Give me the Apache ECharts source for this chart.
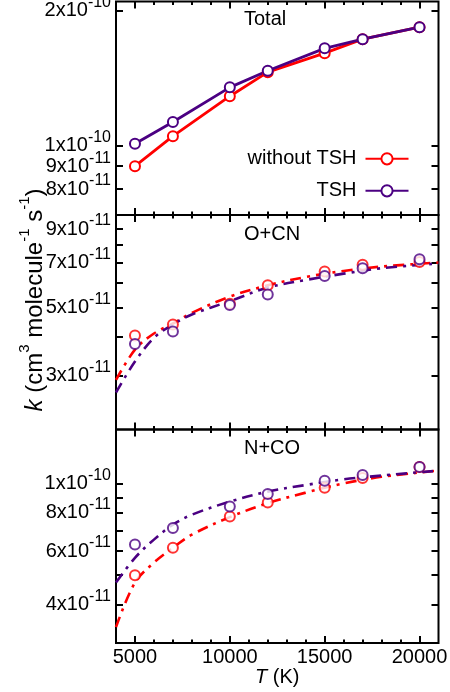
<!DOCTYPE html>
<html>
<head>
<meta charset="utf-8">
<script src="https://cdn.jsdelivr.net/npm/echarts@6/dist/echarts.min.js"></script>
<style>
html,body{margin:0;padding:0;background:#fff}
#chart{width:450px;height:692px}
</style>
</head>
<body>
<div id="chart"></div>
<script>
// temperatures (K)
var temps=[5000,7000,10000,12000,15000,17000,20000]
// Total
var totalNoTSH=[9.0e-11,1.05e-10,1.29e-10,1.46e-10,1.61e-10,1.73e-10,1.84e-10]
var totalTSH=[1.01e-10,1.13e-10,1.35e-10,1.47e-10,1.65e-10,1.73e-10,1.84e-10]
// O+CN
var ocnNoTSH=[4.05e-11,4.40e-11,5.14e-11,5.90e-11,6.54e-11,6.88e-11,7.03e-11]
var ocnTSH=[3.80e-11,4.17e-11,5.09e-11,5.51e-11,6.33e-11,6.71e-11,7.18e-11]
// N+CO
var ncoNoTSH=[5.0e-11,6.15e-11,7.79e-11,8.65e-11,9.67e-11,1.04e-10,1.13e-10]
var ncoTSH=[6.3e-11,7.14e-11,8.4e-11,9.23e-11,1.02e-10,1.065e-10,1.13e-10]
// fitted curves
var fitT=[4000,5000,6000,7000,8000,10000,12000,14000,16000,18000,21000]
var ocnFitNoTSH=[2.9e-11,3.64e-11,4.11e-11,4.43e-11,4.80e-11,5.42e-11,5.90e-11,6.28e-11,6.57e-11,6.79e-11,7.00e-11]
var ocnFitTSH=[2.64e-11,3.33e-11,3.98e-11,4.40e-11,4.74e-11,5.24e-11,5.80e-11,6.14e-11,6.44e-11,6.71e-11,6.95e-11]
var ncoFitNoTSH=[3.38e-11,4.73e-11,5.5e-11,6.15e-11,6.79e-11,7.75e-11,8.61e-11,9.32e-11,9.99e-11,1.05e-10,1.10e-10]
var ncoFitTSH=[4.73e-11,5.7e-11,6.54e-11,7.32e-11,7.89e-11,8.71e-11,9.39e-11,9.87e-11,1.03e-10,1.06e-10,1.10e-10]
// ticks
var xMajor=[5000,10000,15000,20000]
var xMinor=[6000,7000,8000,9000,11000,12000,13000,14000,16000,17000,18000,19000]
var yTicks=[[8e-11,9e-11,1e-10,2e-10],[3e-11,4e-11,5e-11,6e-11,7e-11,8e-11,9e-11],[4e-11,5e-11,6e-11,7e-11,8e-11,9e-11,1e-10]]
var yLabels=[[8e-11,9e-11,1e-10,2e-10],[3e-11,5e-11,7e-11,9e-11],[4e-11,6e-11,8e-11,1e-10]]
var yMin=[7e-11,2e-11,3e-11]
var yMax=[2.1e-10,1e-10,1.5e-10]
var panelNames=['Total','O+CN','N+CO']

var RED='#ff0000',PUR='#4b0082',FONT='Liberation Sans, Arial, sans-serif'

function pairs(xs,ys){
    var out=[]
    for(var i=0;i<xs.length;i++) out.push([xs[i],ys[i]])
    return out
}

//科学计数标签
function sciLabel(v){
    var e=Math.floor(Math.log10(v)+1e-9)
    var m=Math.round(v/Math.pow(10,e))
    return '{a|'+m+'x10}{s|'+e+'}'
}

var labelRich={
    a:{fontSize:20,fontFamily:FONT,color:'#000',lineHeight:20,verticalAlign:'bottom'},
    s:{fontSize:16,fontFamily:FONT,color:'#000',lineHeight:6,verticalAlign:'bottom',padding:[0,0,10,0]}
}

var grids=[
    {left:116,right:11.5,top:1.5,height:213.5},
    {left:116,right:11.5,top:215,height:214.5},
    {left:116,right:11.5,top:429.5,height:213.5}
]
var xAxes=[],yAxes=[],graphics=[]
for(var g=0;g<3;g++){
    grids[g].show=true
    grids[g].borderColor='#000'
    grids[g].borderWidth=2
    grids[g].backgroundColor='transparent'
    grids[g].containLabel=false
    grids[g].outerBoundsMode='none'
    var defs=[['bottom',xMajor,7],['bottom',xMinor,3.5],['top',xMajor,7],['top',xMinor,3.5]]
    for(var k=0;k<4;k++){
        var ax={
            type:'value',gridIndex:g,position:defs[k][0],min:4000,max:21000,
            axisLine:{show:false},splitLine:{show:false},
            axisTick:{show:true,inside:true,length:defs[k][2],customValues:defs[k][1],lineStyle:{color:'#000',width:2}},
            axisLabel:{show:false}
        }
        if(g==2&&k==0){
            ax.axisLabel={show:true,customValues:xMajor,margin:4,color:'#000',fontSize:20,fontFamily:FONT,
                showMinLabel:true,showMaxLabel:true,formatter:function(v){return String(v)}}
            ax.name='{i|T} (K)'
            ax.nameLocation='middle'
            ax.nameGap=23
            ax.nameTextStyle={color:'#000',fontSize:20,fontFamily:FONT,rich:{i:{fontStyle:'italic',fontSize:20,fontFamily:FONT,color:'#000'}}}
        }
        xAxes.push(ax)
    }
    // 标签分两组放在两条左轴上，避免相邻标签被隐藏
    var setA=[],setB=[]
    for(var i=0;i<yLabels[g].length;i++){
        if(i%2==0) setA.push(yLabels[g][i]); else setB.push(yLabels[g][i])
    }
    var ydefs=[['left',yTicks[g],setA],['left',[],setB],['right',yTicks[g],null]]
    for(var s=0;s<3;s++){
        var yx={
            type:'log',logBase:10,gridIndex:g,position:ydefs[s][0],min:yMin[g],max:yMax[g],
            axisLine:{show:false},splitLine:{show:false},
            axisTick:{show:ydefs[s][1].length>0,inside:true,length:7,customValues:ydefs[s][1].length?ydefs[s][1]:undefined,lineStyle:{color:'#000',width:2}},
            axisLabel:{show:false}
        }
        if(ydefs[s][2]){
            yx.axisLabel={
                show:true,customValues:ydefs[s][2],margin:5,formatter:sciLabel,hideOverlap:false,
                showMinLabel:true,showMaxLabel:true,rich:labelRich
            }
        }
        yAxes.push(yx)
    }
    graphics.push({type:'text',x:244,y:grids[g].top+(g==0?17.5:19),style:{text:panelNames[g],fill:'#000',font:'20px '+FONT,align:'left',verticalAlign:'middle'}})
}

graphics.push({
    type:'text',x:32,y:300,rotation:Math.PI/2,
    style:{
        text:'{i|k}{m| (cm}{s|3}{m| molecule}{s|-1}{m| s}{s|-1}{m|)}',
        fill:'#000',fontSize:24,fontFamily:FONT,align:'center',verticalAlign:'middle',lineHeight:30,
        rich:{
            i:{fontStyle:'italic',fontSize:24,fontFamily:FONT,fill:'#000',lineHeight:30,verticalAlign:'bottom'},
            m:{fontSize:24,fontFamily:FONT,fill:'#000',lineHeight:30,verticalAlign:'bottom'},
            s:{fontSize:15,fontFamily:FONT,fill:'#000',lineHeight:6,verticalAlign:'top'}
        }
    }
})

function pointSeries(name,xi,yi,data,color){
    return {type:'scatter',name:name,xAxisIndex:xi,yAxisIndex:yi,data:data,symbol:'emptyCircle',symbolSize:10,
        itemStyle:{color:color,borderColor:color,borderWidth:2.6},z:3}
}
function fitSeries(name,xi,yi,data,color){
    return {type:'line',name:name,xAxisIndex:xi,yAxisIndex:yi,data:data,showSymbol:false,smooth:0.35,
        lineStyle:{color:color,width:2.6,type:[11,6,3,6]},z:2}
}

var series=[
    {type:'line',name:'without TSH',xAxisIndex:0,yAxisIndex:0,data:pairs(temps,totalNoTSH),
        symbol:'emptyCircle',symbolSize:10,lineStyle:{color:RED,width:2.8},itemStyle:{color:RED,borderColor:RED,borderWidth:2.6}},
    {type:'line',name:'TSH',xAxisIndex:0,yAxisIndex:0,data:pairs(temps,totalTSH),
        symbol:'emptyCircle',symbolSize:10,lineStyle:{color:PUR,width:2.8},itemStyle:{color:PUR,borderColor:PUR,borderWidth:2.6}},
    fitSeries('ocn fit no',4,3,pairs(fitT,ocnFitNoTSH),RED),
    fitSeries('ocn fit tsh',4,3,pairs(fitT,ocnFitTSH),PUR),
    pointSeries('ocn no',4,3,pairs(temps,ocnNoTSH),RED),
    pointSeries('ocn tsh',4,3,pairs(temps,ocnTSH),PUR),
    fitSeries('nco fit no',8,6,pairs(fitT,ncoFitNoTSH),RED),
    fitSeries('nco fit tsh',8,6,pairs(fitT,ncoFitTSH),PUR),
    pointSeries('nco no',8,6,pairs(temps,ncoNoTSH),RED),
    pointSeries('nco tsh',8,6,pairs(temps,ncoTSH),PUR)
]

var myChart=echarts.init(document.getElementById('chart'),null,{renderer:'canvas'})
myChart.setOption({
    animation:false,
    backgroundColor:'#fff',
    grid:grids,
    xAxis:xAxes,
    yAxis:yAxes,
    legend:{
        data:['without TSH','TSH'],orient:'vertical',align:'right',right:35.5,top:143.8,
        itemWidth:43,itemHeight:14,itemGap:12,
        textStyle:{fontSize:20,fontFamily:FONT,color:'#000',padding:[0,4,0,0]}
    },
    graphic:graphics,
    series:series
})
</script>
</body>
</html>
